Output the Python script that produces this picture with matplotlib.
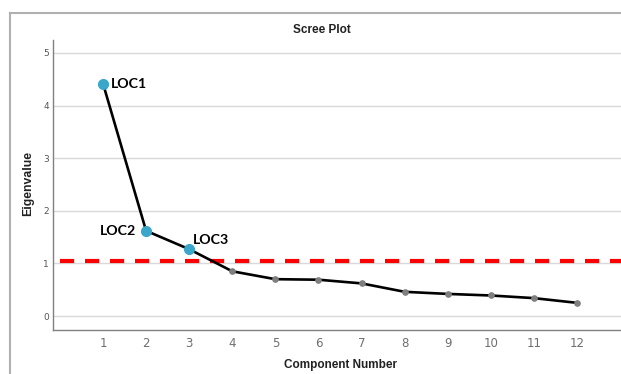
import numpy as np
import matplotlib.pyplot as plt
from matplotlib.lines import Line2D

components = np.arange(1, 13)
eigenvalues = [4.42, 1.62, 1.27, 0.85, 0.70, 0.69, 0.62, 0.46, 0.42, 0.39, 0.34, 0.25]
labels = ['LOC1', 'LOC2', 'LOC3']
cutoff = 1.04

fig = plt.figure(figsize=(6.21, 3.74), dpi=100)
ax = fig.add_axes([53/621, 44/374, 1 - 53/621, 290/374])

# outer frame (open on right and bottom)
fig.add_artist(Line2D([9.5/621, 9.5/621], [0, 1 - 13/374], color='#b0b0b0', lw=1.5))
fig.add_artist(Line2D([9.5/621, 1], [1 - 13/374, 1 - 13/374], color='#b0b0b0', lw=1.5))

ax.plot(components, eigenvalues, color='black', lw=1.9, zorder=3)
ax.plot(components[3:], eigenvalues[3:], 'o', color='#7f7f7f', ms=3.8, zorder=4)
ax.plot(components[:3], eigenvalues[:3], 'o', color='#3aa6c9', ms=7, zorder=5)

ax.axhline(cutoff, xmin=(59.6-53)/568, color='#ff0000', lw=3, linestyle=(0, (3.4, 2.6)), zorder=2)

offsets = [(6, 0, 'left'), (-7, 0, 'right'), (3, 6.5, 'left')]
for i, (lab, (dx, dy, ha)) in enumerate(zip(labels, offsets)):
    ax.annotate(lab, (components[i], eigenvalues[i]), xytext=(dx, dy), textcoords='offset points',
                ha=ha, va='center', fontsize=10.2, fontweight='bold', family='Lato', color='black')

ax.set_xlim(-0.16, 13.02)
ax.set_ylim(-0.266, 5.247)
ax.set_xticks(components)
ax.set_yticks(range(6))
ax.grid(axis='y', color='#d9d9d9', lw=1)
ax.set_axisbelow(True)
ax.tick_params(axis='x', length=0, labelsize=8.5, labelcolor='#6e6e6e', pad=5)
ax.tick_params(axis='y', length=0, labelsize=6.5, labelcolor='#555555', pad=3)
for s in ['top', 'right']:
    ax.spines[s].set_visible(False)
for s in ['left', 'bottom']:
    ax.spines[s].set_color('#808080')
    ax.spines[s].set_linewidth(1)

fig.text(28.6/621, 1 - 184/374, 'Eigenvalue', rotation=90, ha='center', va='center',
         fontsize=8.8, fontweight='bold', family='Liberation Sans', color='#222222')
fig.text(340/621, 1 - 365/374, 'Component Number', ha='center', va='center',
         fontsize=8.5, fontweight='bold', family='Liberation Sans', color='#222222')
fig.text(322/621, 1 - 30/374, 'Scree Plot', ha='center', va='center',
         fontsize=8.5, fontweight='bold', family='Liberation Sans', color='#222222')

fig.savefig('out.png', dpi=100)
